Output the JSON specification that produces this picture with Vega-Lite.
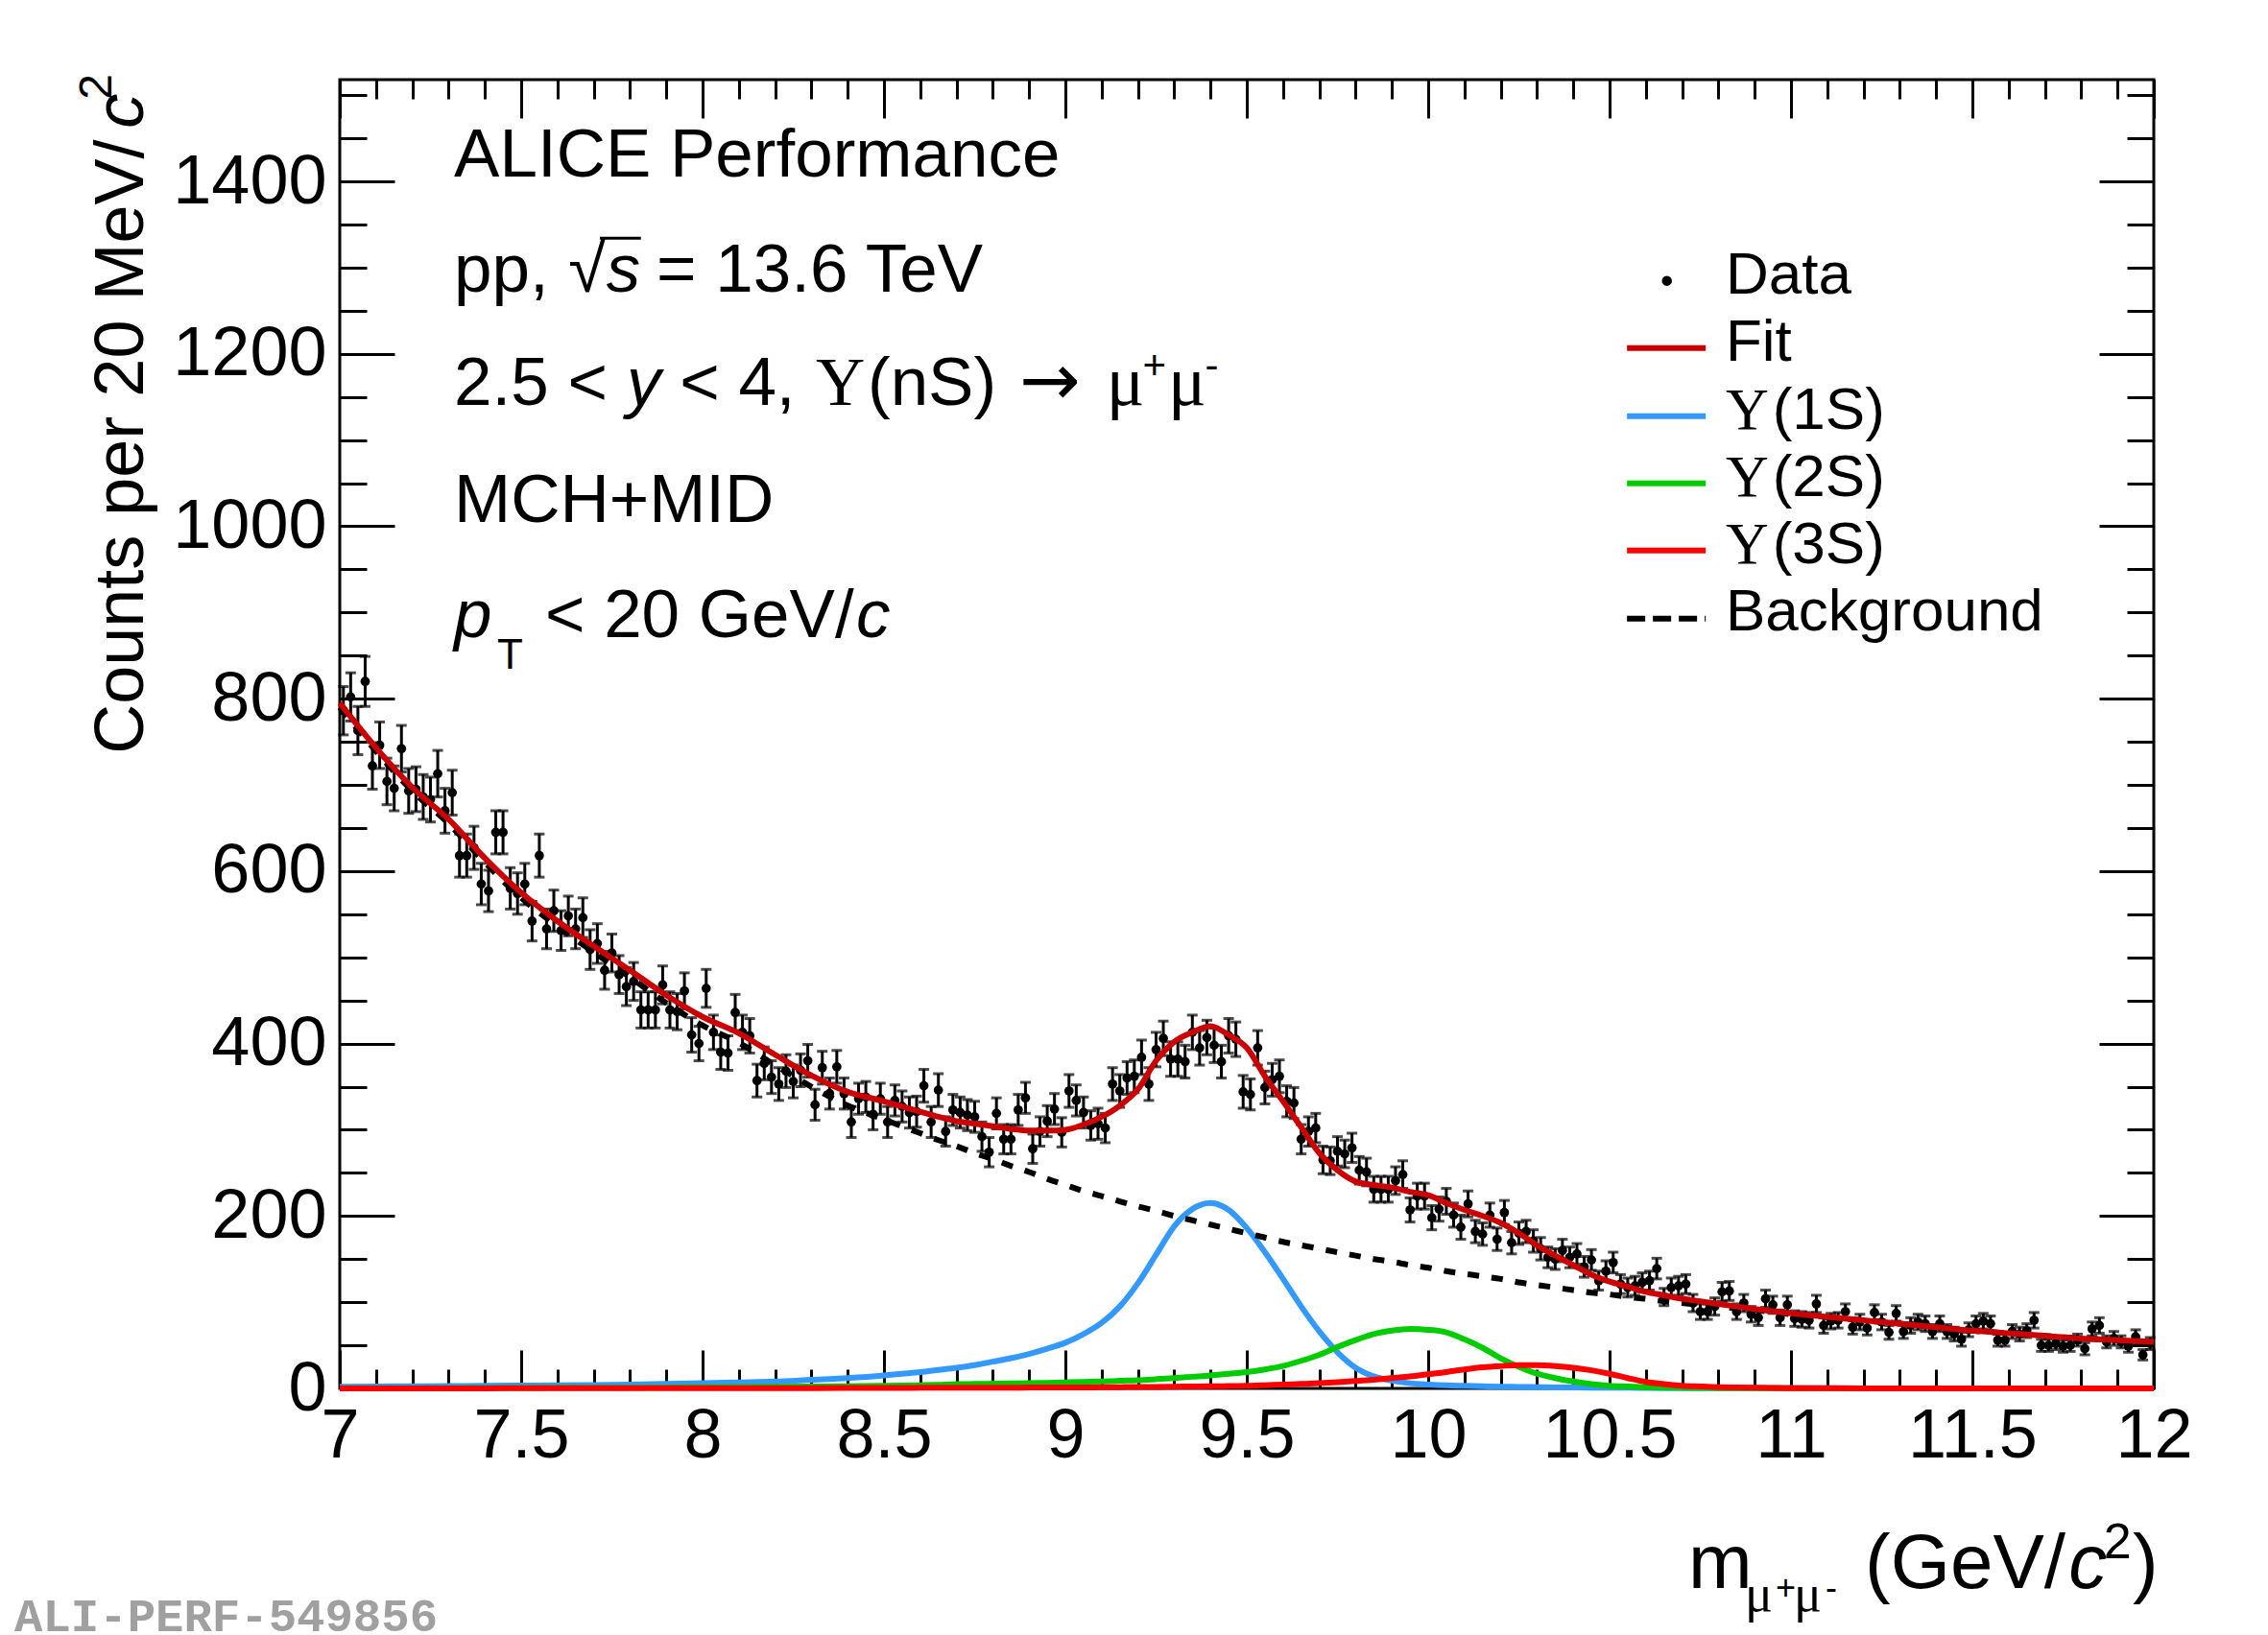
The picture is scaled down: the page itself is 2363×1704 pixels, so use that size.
{
  "$schema": "https://vega.github.io/schema/vega-lite/v6.json",
  "width": 1890,
  "height": 1364,
  "autosize": {"type": "none"},
  "padding": {"left": 354, "top": 83, "right": 119, "bottom": 257},
  "background": "white",
  "config": {
    "view": {"stroke": "black", "strokeWidth": 3},
    "axis": {"domain": false, "grid": false, "tickColor": "black", "tickWidth": 3, "labelFont": "Liberation Sans", "labelFontSize": 72, "labelColor": "black"}
  },
  "datasets": {
    "pts": [
      {"m":7.01,"n":786,"e":28},{"m":7.03,"n":802,"e":28},{"m":7.05,"n":763,"e":28},{"m":7.07,"n":820,"e":29},{"m":7.09,"n":722,"e":27},
      {"m":7.11,"n":746,"e":27},{"m":7.13,"n":704,"e":27},{"m":7.15,"n":696,"e":26},{"m":7.17,"n":742,"e":27},{"m":7.19,"n":693,"e":26},
      {"m":7.21,"n":695,"e":26},{"m":7.23,"n":686,"e":26},{"m":7.25,"n":683,"e":26},{"m":7.27,"n":713,"e":27},{"m":7.29,"n":670,"e":26},
      {"m":7.31,"n":691,"e":26},{"m":7.33,"n":618,"e":25},{"m":7.35,"n":618,"e":25},{"m":7.37,"n":627,"e":25},{"m":7.39,"n":585,"e":24},
      {"m":7.41,"n":577,"e":24},{"m":7.43,"n":645,"e":25},{"m":7.45,"n":645,"e":25},{"m":7.47,"n":580,"e":24},{"m":7.49,"n":574,"e":24},
      {"m":7.51,"n":585,"e":24},{"m":7.53,"n":542,"e":23},{"m":7.55,"n":618,"e":25},{"m":7.57,"n":533,"e":23},{"m":7.59,"n":554,"e":24},
      {"m":7.61,"n":531,"e":23},{"m":7.63,"n":548,"e":23},{"m":7.65,"n":533,"e":23},{"m":7.67,"n":546,"e":23},{"m":7.69,"n":509,"e":23},
      {"m":7.71,"n":516,"e":23},{"m":7.73,"n":485,"e":22},{"m":7.75,"n":505,"e":22},{"m":7.77,"n":480,"e":22},{"m":7.79,"n":466,"e":22},
      {"m":7.81,"n":472,"e":22},{"m":7.83,"n":439,"e":21},{"m":7.85,"n":439,"e":21},{"m":7.87,"n":439,"e":21},{"m":7.89,"n":468,"e":22},
      {"m":7.91,"n":439,"e":21},{"m":7.93,"n":437,"e":21},{"m":7.95,"n":461,"e":21},{"m":7.97,"n":410,"e":20},{"m":7.99,"n":400,"e":20},
      {"m":8.01,"n":464,"e":22},{"m":8.03,"n":413,"e":20},{"m":8.05,"n":390,"e":20},{"m":8.07,"n":389,"e":20},{"m":8.09,"n":436,"e":21},
      {"m":8.11,"n":413,"e":20},{"m":8.13,"n":409,"e":20},{"m":8.15,"n":357,"e":19},{"m":8.17,"n":377,"e":19},{"m":8.19,"n":361,"e":19},
      {"m":8.21,"n":353,"e":19},{"m":8.23,"n":368,"e":19},{"m":8.25,"n":356,"e":19},{"m":8.27,"n":369,"e":19},{"m":8.29,"n":380,"e":19},
      {"m":8.31,"n":329,"e":18},{"m":8.33,"n":372,"e":19},{"m":8.35,"n":342,"e":18},{"m":8.37,"n":373,"e":19},{"m":8.39,"n":342,"e":18},
      {"m":8.41,"n":309,"e":18},{"m":8.43,"n":336,"e":18},{"m":8.45,"n":338,"e":18},{"m":8.47,"n":318,"e":18},{"m":8.49,"n":336,"e":18},
      {"m":8.51,"n":309,"e":18},{"m":8.53,"n":334,"e":18},{"m":8.55,"n":327,"e":18},{"m":8.57,"n":320,"e":18},{"m":8.59,"n":321,"e":18},
      {"m":8.61,"n":351,"e":19},{"m":8.63,"n":309,"e":18},{"m":8.65,"n":346,"e":19},{"m":8.67,"n":298,"e":17},{"m":8.69,"n":323,"e":18},
      {"m":8.71,"n":320,"e":18},{"m":8.73,"n":317,"e":18},{"m":8.75,"n":315,"e":18},{"m":8.77,"n":292,"e":17},{"m":8.79,"n":274,"e":17},
      {"m":8.81,"n":319,"e":18},{"m":8.83,"n":289,"e":17},{"m":8.85,"n":289,"e":17},{"m":8.87,"n":323,"e":18},{"m":8.89,"n":337,"e":18},
      {"m":8.91,"n":278,"e":17},{"m":8.93,"n":298,"e":17},{"m":8.95,"n":310,"e":18},{"m":8.97,"n":324,"e":18},{"m":8.99,"n":297,"e":17},
      {"m":9.01,"n":345,"e":19},{"m":9.03,"n":334,"e":18},{"m":9.05,"n":320,"e":18},{"m":9.07,"n":305,"e":17},{"m":9.09,"n":307,"e":18},
      {"m":9.11,"n":302,"e":17},{"m":9.13,"n":353,"e":19},{"m":9.15,"n":345,"e":19},{"m":9.17,"n":360,"e":19},{"m":9.19,"n":362,"e":19},
      {"m":9.21,"n":384,"e":20},{"m":9.23,"n":353,"e":19},{"m":9.25,"n":393,"e":20},{"m":9.27,"n":406,"e":20},{"m":9.29,"n":382,"e":20},
      {"m":9.31,"n":382,"e":20},{"m":9.33,"n":379,"e":19},{"m":9.35,"n":413,"e":20},{"m":9.37,"n":395,"e":20},{"m":9.39,"n":407,"e":20},
      {"m":9.41,"n":398,"e":20},{"m":9.43,"n":379,"e":19},{"m":9.45,"n":409,"e":20},{"m":9.47,"n":405,"e":20},{"m":9.49,"n":344,"e":19},
      {"m":9.51,"n":341,"e":18},{"m":9.53,"n":395,"e":20},{"m":9.55,"n":349,"e":19},{"m":9.57,"n":358,"e":19},{"m":9.59,"n":362,"e":19},
      {"m":9.61,"n":333,"e":18},{"m":9.63,"n":331,"e":18},{"m":9.65,"n":289,"e":17},{"m":9.67,"n":298,"e":17},{"m":9.69,"n":302,"e":17},
      {"m":9.71,"n":265,"e":16},{"m":9.73,"n":264,"e":16},{"m":9.75,"n":275,"e":17},{"m":9.77,"n":272,"e":16},{"m":9.79,"n":279,"e":17},
      {"m":9.81,"n":253,"e":16},{"m":9.83,"n":251,"e":16},{"m":9.85,"n":231,"e":15},{"m":9.87,"n":231,"e":15},{"m":9.89,"n":231,"e":15},
      {"m":9.91,"n":241,"e":16},{"m":9.93,"n":248,"e":16},{"m":9.95,"n":207,"e":14},{"m":9.97,"n":223,"e":15},{"m":9.99,"n":223,"e":15},
      {"m":10.01,"n":198,"e":14},{"m":10.03,"n":208,"e":14},{"m":10.05,"n":217,"e":15},{"m":10.07,"n":201,"e":14},{"m":10.09,"n":187,"e":14},
      {"m":10.11,"n":214,"e":15},{"m":10.13,"n":182,"e":13},{"m":10.15,"n":179,"e":13},{"m":10.17,"n":201,"e":14},{"m":10.19,"n":173,"e":13},
      {"m":10.21,"n":204,"e":14},{"m":10.23,"n":169,"e":13},{"m":10.25,"n":180,"e":13},{"m":10.27,"n":182,"e":13},{"m":10.29,"n":171,"e":13},
      {"m":10.31,"n":162,"e":13},{"m":10.33,"n":152,"e":12},{"m":10.35,"n":150,"e":12},{"m":10.37,"n":160,"e":13},{"m":10.39,"n":152,"e":12},
      {"m":10.41,"n":156,"e":12},{"m":10.43,"n":141,"e":12},{"m":10.45,"n":149,"e":12},{"m":10.47,"n":125,"e":11},{"m":10.49,"n":136,"e":12},
      {"m":10.51,"n":146,"e":12},{"m":10.53,"n":121,"e":11},{"m":10.55,"n":117,"e":11},{"m":10.57,"n":119,"e":11},{"m":10.59,"n":123,"e":11},
      {"m":10.61,"n":125,"e":11},{"m":10.63,"n":139,"e":12},{"m":10.65,"n":106,"e":10},{"m":10.67,"n":117,"e":11},{"m":10.69,"n":119,"e":11},
      {"m":10.71,"n":121,"e":11},{"m":10.73,"n":99,"e":10},{"m":10.75,"n":89,"e":9},{"m":10.77,"n":89,"e":9},{"m":10.79,"n":95,"e":10},
      {"m":10.81,"n":112,"e":11},{"m":10.83,"n":113,"e":11},{"m":10.85,"n":89,"e":9},{"m":10.87,"n":99,"e":10},{"m":10.89,"n":86,"e":9},
      {"m":10.91,"n":82,"e":9},{"m":10.93,"n":104,"e":10},{"m":10.95,"n":97,"e":10},{"m":10.97,"n":82,"e":9},{"m":10.99,"n":97,"e":10},
      {"m":11.01,"n":81,"e":9},{"m":11.03,"n":80,"e":9},{"m":11.05,"n":79,"e":9},{"m":11.07,"n":98,"e":10},{"m":11.09,"n":73,"e":9},
      {"m":11.11,"n":78,"e":9},{"m":11.13,"n":79,"e":9},{"m":11.15,"n":89,"e":9},{"m":11.17,"n":71,"e":8},{"m":11.19,"n":77,"e":9},
      {"m":11.21,"n":70,"e":8},{"m":11.23,"n":88,"e":9},{"m":11.25,"n":77,"e":9},{"m":11.27,"n":65,"e":8},{"m":11.29,"n":87,"e":9},
      {"m":11.31,"n":66,"e":8},{"m":11.33,"n":73,"e":9},{"m":11.35,"n":77,"e":9},{"m":11.37,"n":75,"e":9},{"m":11.39,"n":66,"e":8},
      {"m":11.41,"n":75,"e":9},{"m":11.43,"n":66,"e":8},{"m":11.45,"n":63,"e":8},{"m":11.47,"n":57,"e":8},{"m":11.49,"n":68,"e":8},
      {"m":11.51,"n":75,"e":9},{"m":11.53,"n":78,"e":9},{"m":11.55,"n":75,"e":9},{"m":11.57,"n":56,"e":7},{"m":11.59,"n":56,"e":7},
      {"m":11.61,"n":66,"e":8},{"m":11.63,"n":63,"e":8},{"m":11.65,"n":67,"e":8},{"m":11.67,"n":79,"e":9},{"m":11.69,"n":50,"e":7},
      {"m":11.71,"n":50,"e":7},{"m":11.73,"n":52,"e":7},{"m":11.75,"n":49,"e":7},{"m":11.77,"n":50,"e":7},{"m":11.79,"n":56,"e":7},
      {"m":11.81,"n":46,"e":7},{"m":11.83,"n":69,"e":8},{"m":11.85,"n":73,"e":9},{"m":11.87,"n":54,"e":7},{"m":11.89,"n":58,"e":8},
      {"m":11.91,"n":54,"e":7},{"m":11.93,"n":49,"e":7},{"m":11.95,"n":60,"e":8},{"m":11.97,"n":39,"e":6},{"m":11.99,"n":52,"e":7}
    ],
    "crv": [
      {"m":7.0,"fit":795,"bkg":790,"s1":2,"s2":0.3,"s3":0.1},
      {"m":7.1,"fit":743,"bkg":739,"s1":2.2,"s2":0.3,"s3":0.1},
      {"m":7.2,"fit":697,"bkg":693,"s1":2.5,"s2":0.4,"s3":0.1},
      {"m":7.3,"fit":660,"bkg":655,"s1":2.8,"s2":0.4,"s3":0.1},
      {"m":7.4,"fit":615,"bkg":610,"s1":3,"s2":0.5,"s3":0.1},
      {"m":7.5,"fit":575,"bkg":569,"s1":3.3,"s2":0.6,"s3":0.2},
      {"m":7.6,"fit":542,"bkg":536,"s1":3.6,"s2":0.7,"s3":0.2},
      {"m":7.7,"fit":513,"bkg":506,"s1":4,"s2":0.8,"s3":0.2},
      {"m":7.8,"fit":485,"bkg":477,"s1":4.5,"s2":0.9,"s3":0.2},
      {"m":7.9,"fit":456,"bkg":447,"s1":5.2,"s2":1.1,"s3":0.3},
      {"m":8.0,"fit":431,"bkg":421,"s1":6,"s2":1.5,"s3":0.3},
      {"m":8.1,"fit":412,"bkg":401,"s1":7,"s2":1.7,"s3":0.3},
      {"m":8.2,"fit":387,"bkg":375,"s1":8,"s2":1.9,"s3":0.4},
      {"m":8.3,"fit":363,"bkg":350,"s1":10,"s2":2.2,"s3":0.4},
      {"m":8.4,"fit":344,"bkg":328,"s1":12,"s2":2.6,"s3":0.5},
      {"m":8.5,"fit":333,"bkg":312,"s1":15,"s2":3,"s3":0.6},
      {"m":8.55,"fit":327,"bkg":304,"s1":17,"s2":3.3,"s3":0.6},
      {"m":8.6,"fit":321,"bkg":296,"s1":19,"s2":3.7,"s3":0.7},
      {"m":8.65,"fit":315,"bkg":288,"s1":21.5,"s2":4.2,"s3":0.7},
      {"m":8.7,"fit":310,"bkg":281,"s1":24,"s2":5,"s3":0.8},
      {"m":8.75,"fit":307,"bkg":273,"s1":27,"s2":5.2,"s3":0.8},
      {"m":8.8,"fit":304,"bkg":266,"s1":31,"s2":5.5,"s3":0.9},
      {"m":8.85,"fit":301,"bkg":258,"s1":35,"s2":5.8,"s3":0.9},
      {"m":8.9,"fit":299,"bkg":251,"s1":40,"s2":6,"s3":1},
      {"m":8.95,"fit":299,"bkg":243,"s1":46,"s2":6.5,"s3":1},
      {"m":9.0,"fit":300,"bkg":236,"s1":53,"s2":7,"s3":1},
      {"m":9.05,"fit":306,"bkg":229,"s1":63,"s2":7.5,"s3":1.2},
      {"m":9.1,"fit":315,"bkg":223,"s1":76,"s2":8,"s3":1.3},
      {"m":9.15,"fit":328,"bkg":217,"s1":95,"s2":8.8,"s3":1.5},
      {"m":9.2,"fit":347,"bkg":211,"s1":122,"s2":9.5,"s3":1.7},
      {"m":9.25,"fit":380,"bkg":206,"s1":155,"s2":10.7,"s3":1.8},
      {"m":9.3,"fit":402,"bkg":200,"s1":188,"s2":12,"s3":2},
      {"m":9.35,"fit":413,"bkg":195,"s1":208,"s2":13.5,"s3":2.2},
      {"m":9.4,"fit":420,"bkg":190,"s1":215,"s2":15,"s3":2.4},
      {"m":9.45,"fit":410,"bkg":185,"s1":207,"s2":17,"s3":2.7},
      {"m":9.5,"fit":395,"bkg":180,"s1":186,"s2":19,"s3":3},
      {"m":9.55,"fit":362,"bkg":175,"s1":158,"s2":22,"s3":3.7},
      {"m":9.6,"fit":333,"bkg":170,"s1":127,"s2":26,"s3":4.5},
      {"m":9.65,"fit":303,"bkg":166,"s1":95,"s2":32,"s3":5.2},
      {"m":9.7,"fit":273,"bkg":162,"s1":66,"s2":39,"s3":6},
      {"m":9.75,"fit":253,"bkg":158,"s1":42,"s2":48,"s3":7.2},
      {"m":9.8,"fit":240,"bkg":154,"s1":24,"s2":56,"s3":8.5},
      {"m":9.85,"fit":236,"bkg":150,"s1":14,"s2":63,"s3":10},
      {"m":9.9,"fit":233,"bkg":147,"s1":9,"s2":67,"s3":12},
      {"m":9.95,"fit":228,"bkg":143,"s1":6,"s2":69,"s3":14},
      {"m":10.0,"fit":224,"bkg":140,"s1":4.5,"s2":68,"s3":16.5},
      {"m":10.05,"fit":215,"bkg":136,"s1":3.5,"s2":65,"s3":19},
      {"m":10.1,"fit":207,"bkg":133,"s1":3,"s2":57,"s3":22},
      {"m":10.15,"fit":200,"bkg":130,"s1":2.5,"s2":47,"s3":24.5},
      {"m":10.2,"fit":192,"bkg":127,"s1":2,"s2":35,"s3":26},
      {"m":10.25,"fit":180,"bkg":123,"s1":1.8,"s2":25,"s3":27},
      {"m":10.3,"fit":166,"bkg":120,"s1":1.5,"s2":17,"s3":27},
      {"m":10.35,"fit":154,"bkg":117,"s1":1.2,"s2":12,"s3":26},
      {"m":10.4,"fit":143,"bkg":114,"s1":1,"s2":8,"s3":24},
      {"m":10.45,"fit":132,"bkg":111,"s1":0.9,"s2":5,"s3":21},
      {"m":10.5,"fit":124,"bkg":109,"s1":0.8,"s2":3,"s3":17},
      {"m":10.55,"fit":118,"bkg":106,"s1":0.7,"s2":2.2,"s3":12},
      {"m":10.6,"fit":112,"bkg":104,"s1":0.5,"s2":1.5,"s3":7.5},
      {"m":10.65,"fit":108,"bkg":101,"s1":0.4,"s2":1,"s3":5},
      {"m":10.7,"fit":104,"bkg":99,"s1":0.4,"s2":0.7,"s3":3},
      {"m":10.75,"fit":101,"bkg":97,"s1":0.3,"s2":0.5,"s3":2.2},
      {"m":10.8,"fit":98,"bkg":95,"s1":0.3,"s2":0.4,"s3":1.5},
      {"m":10.85,"fit":95,"bkg":93,"s1":0.3,"s2":0.3,"s3":1.1},
      {"m":10.9,"fit":92,"bkg":91,"s1":0.2,"s2":0.3,"s3":0.8},
      {"m":11.0,"fit":87,"bkg":86,"s1":0.2,"s2":0.2,"s3":0.4},
      {"m":11.1,"fit":83,"bkg":82.5,"s1":0.2,"s2":0.1,"s3":0.2},
      {"m":11.2,"fit":79,"bkg":79,"s1":0.1,"s2":0.1,"s3":0.1},
      {"m":11.3,"fit":75,"bkg":75,"s1":0.1,"s2":0.1,"s3":0.1},
      {"m":11.4,"fit":71,"bkg":71,"s1":0.1,"s2":0,"s3":0},
      {"m":11.5,"fit":67,"bkg":67,"s1":0.1,"s2":0,"s3":0},
      {"m":11.6,"fit":64,"bkg":64,"s1":0,"s2":0,"s3":0},
      {"m":11.7,"fit":61,"bkg":61,"s1":0,"s2":0,"s3":0},
      {"m":11.8,"fit":58,"bkg":58,"s1":0,"s2":0,"s3":0},
      {"m":11.9,"fit":56,"bkg":56,"s1":0,"s2":0,"s3":0},
      {"m":12.0,"fit":54,"bkg":54,"s1":0,"s2":0,"s3":0}
    ],
    "one": [{}]
  },
  "resolve": {"axis": {"x": "independent", "y": "independent"}},
  "layer": [
    {
      "data": {"name": "pts"},
      "mark": {"type": "errorbar", "ticks": true, "thickness": 3, "size": 11, "color": "black"},
      "encoding": {
        "x": {"field": "m", "type": "quantitative", "axis": null},
        "y": {"field": "n", "type": "quantitative", "axis": null},
        "yError": {"field": "e"}
      }
    },
    {
      "data": {"name": "pts"},
      "mark": {"type": "circle", "color": "black", "opacity": 1, "size": 95},
      "encoding": {
        "x": {"field": "m", "type": "quantitative", "scale": {"domain": [7, 12], "nice": false, "zero": false},
          "axis": {"orient": "bottom", "title": null, "values": [7, 7.5, 8, 8.5, 9, 9.5, 10, 10.5, 11, 11.5, 12], "format": "~g", "tickSize": -40, "labelPadding": 54, "labelFlush": false, "labelOverlap": false, "labelBound": false}},
        "y": {"field": "n", "type": "quantitative", "scale": {"domain": [0, 1518], "nice": false, "zero": false},
          "axis": {"orient": "left", "title": null, "values": [0, 200, 400, 600, 800, 1000, 1200, 1400], "format": "d", "tickSize": -57, "labelPadding": 71, "labelFlush": false, "labelOverlap": false, "labelBound": false}}
      }
    },
    {
      "data": {"name": "crv"},
      "mark": {"type": "line", "color": "#3399ff", "strokeWidth": 6, "interpolate": "monotone"},
      "encoding": {
        "x": {"field": "m", "type": "quantitative",
          "axis": {"orient": "top", "title": null, "labels": false, "tickSize": -20, "values": [7,7.1,7.2,7.3,7.4,7.5,7.6,7.7,7.8,7.9,8,8.1,8.2,8.3,8.4,8.5,8.6,8.7,8.8,8.9,9,9.1,9.2,9.3,9.4,9.5,9.6,9.7,9.8,9.9,10,10.1,10.2,10.3,10.4,10.5,10.6,10.7,10.8,10.9,11,11.1,11.2,11.3,11.4,11.5,11.6,11.7,11.8,11.9,12]}},
        "y": {"field": "s1", "type": "quantitative",
          "axis": {"orient": "right", "title": null, "labels": false, "tickSize": -28, "values": [0,50,100,150,200,250,300,350,400,450,500,550,600,650,700,750,800,850,900,950,1000,1050,1100,1150,1200,1250,1300,1350,1400,1450,1500]}}
      }
    },
    {
      "data": {"name": "crv"},
      "mark": {"type": "line", "color": "#00cc00", "strokeWidth": 6, "interpolate": "monotone"},
      "encoding": {
        "x": {"field": "m", "type": "quantitative", "axis": null},
        "y": {"field": "s2", "type": "quantitative", "axis": null}
      }
    },
    {
      "data": {"name": "crv"},
      "mark": {"type": "line", "color": "#ff0000", "strokeWidth": 6, "interpolate": "monotone"},
      "encoding": {
        "x": {"field": "m", "type": "quantitative", "axis": null},
        "y": {"field": "s3", "type": "quantitative", "axis": null}
      }
    },
    {
      "data": {"name": "crv"},
      "mark": {"type": "line", "color": "black", "strokeWidth": 6, "strokeDash": [12, 13], "interpolate": "monotone"},
      "encoding": {
        "x": {"field": "m", "type": "quantitative",
          "axis": {"orient": "top", "title": null, "labels": false, "tickSize": -40, "values": [7, 7.5, 8, 8.5, 9, 9.5, 10, 10.5, 11, 11.5, 12]}},
        "y": {"field": "bkg", "type": "quantitative",
          "axis": {"orient": "right", "title": null, "labels": false, "tickSize": -57, "values": [0, 200, 400, 600, 800, 1000, 1200, 1400]}}
      }
    },
    {
      "data": {"name": "crv"},
      "mark": {"type": "line", "color": "#cc0000", "strokeWidth": 6, "interpolate": "monotone"},
      "encoding": {
        "x": {"field": "m", "type": "quantitative",
          "axis": {"orient": "bottom", "title": null, "labels": false, "tickSize": -20, "values": [7,7.1,7.2,7.3,7.4,7.5,7.6,7.7,7.8,7.9,8,8.1,8.2,8.3,8.4,8.5,8.6,8.7,8.8,8.9,9,9.1,9.2,9.3,9.4,9.5,9.6,9.7,9.8,9.9,10,10.1,10.2,10.3,10.4,10.5,10.6,10.7,10.8,10.9,11,11.1,11.2,11.3,11.4,11.5,11.6,11.7,11.8,11.9,12]}},
        "y": {"field": "fit", "type": "quantitative",
          "axis": {"orient": "left", "title": null, "labels": false, "tickSize": -28, "values": [0,50,100,150,200,250,300,350,400,450,500,550,600,650,700,750,800,850,900,950,1000,1050,1100,1150,1200,1250,1300,1350,1400,1450,1500]}}
      }
    },
    {"data": {"name": "one"}, "mark": {"type": "text", "text": "ALICE Performance", "font": "Liberation Sans", "fontSize": 71, "align": "left", "baseline": "alphabetic", "color": "black"},
      "encoding": {"x": {"datum": 7.315, "type": "quantitative", "axis": null}, "y": {"datum": 1406, "type": "quantitative", "axis": null}}},
    {"data": {"name": "one"}, "mark": {"type": "text", "text": "pp,", "font": "Liberation Sans", "fontSize": 71, "align": "left", "baseline": "alphabetic", "color": "black"},
      "encoding": {"x": {"datum": 7.315, "type": "quantitative", "axis": null}, "y": {"datum": 1272.4, "type": "quantitative", "axis": null}}},
    {"data": {"name": "one"}, "mark": {"type": "text", "text": "√", "font": "Liberation Sans", "fontSize": 71, "align": "left", "baseline": "alphabetic", "color": "black"},
      "encoding": {"x": {"datum": 7.630, "type": "quantitative", "axis": null}, "y": {"datum": 1272.4, "type": "quantitative", "axis": null}}},
    {"data": {"name": "one"}, "mark": {"type": "text", "text": "s", "font": "Liberation Sans", "fontStyle": "italic", "fontSize": 71, "align": "left", "baseline": "alphabetic", "color": "black"},
      "encoding": {"x": {"datum": 7.735, "type": "quantitative", "axis": null}, "y": {"datum": 1272.4, "type": "quantitative", "axis": null}}},
    {"data": {"name": "one"}, "mark": {"type": "rule", "color": "black", "strokeWidth": 3},
      "encoding": {"x": {"datum": 7.717, "type": "quantitative", "axis": null}, "x2": {"datum": 7.83}, "y": {"datum": 1334, "type": "quantitative", "axis": null}}},
    {"data": {"name": "one"}, "mark": {"type": "text", "text": "= 13.6 TeV", "font": "Liberation Sans", "fontSize": 71, "align": "left", "baseline": "alphabetic", "color": "black"},
      "encoding": {"x": {"datum": 7.873, "type": "quantitative", "axis": null}, "y": {"datum": 1272.4, "type": "quantitative", "axis": null}}},
    {"data": {"name": "one"}, "mark": {"type": "text", "text": "2.5 <", "font": "Liberation Sans", "fontSize": 71, "align": "left", "baseline": "alphabetic", "color": "black"},
      "encoding": {"x": {"datum": 7.315, "type": "quantitative", "axis": null}, "y": {"datum": 1141, "type": "quantitative", "axis": null}}},
    {"data": {"name": "one"}, "mark": {"type": "text", "text": "y", "font": "Liberation Sans", "fontStyle": "italic", "fontSize": 71, "align": "left", "baseline": "alphabetic", "color": "black"},
      "encoding": {"x": {"datum": 7.791, "type": "quantitative", "axis": null}, "y": {"datum": 1141, "type": "quantitative", "axis": null}}},
    {"data": {"name": "one"}, "mark": {"type": "text", "text": "< 4,", "font": "Liberation Sans", "fontSize": 71, "align": "left", "baseline": "alphabetic", "color": "black"},
      "encoding": {"x": {"datum": 7.937, "type": "quantitative", "axis": null}, "y": {"datum": 1141, "type": "quantitative", "axis": null}}},
    {"data": {"name": "one"}, "mark": {"type": "text", "text": "Υ", "font": "Liberation Serif", "fontSize": 71, "align": "left", "baseline": "alphabetic", "color": "black"},
      "encoding": {"x": {"datum": 8.312, "type": "quantitative", "axis": null}, "y": {"datum": 1141, "type": "quantitative", "axis": null}}},
    {"data": {"name": "one"}, "mark": {"type": "text", "text": "(nS)", "font": "Liberation Sans", "fontSize": 71, "align": "left", "baseline": "alphabetic", "color": "black"},
      "encoding": {"x": {"datum": 8.455, "type": "quantitative", "axis": null}, "y": {"datum": 1141, "type": "quantitative", "axis": null}}},
    {"data": {"name": "one"}, "mark": {"type": "text", "text": "→", "font": "DejaVu Sans", "fontSize": 76, "align": "left", "baseline": "alphabetic", "color": "black"},
      "encoding": {"x": {"datum": 8.873, "type": "quantitative", "axis": null}, "y": {"datum": 1141, "type": "quantitative", "axis": null}}},
    {"data": {"name": "one"}, "mark": {"type": "text", "text": "μ", "font": "Liberation Serif", "fontSize": 74, "align": "left", "baseline": "alphabetic", "color": "black"},
      "encoding": {"x": {"datum": 9.113, "type": "quantitative", "axis": null}, "y": {"datum": 1141, "type": "quantitative", "axis": null}}},
    {"data": {"name": "one"}, "mark": {"type": "text", "text": "+", "font": "Liberation Sans", "fontSize": 42, "align": "left", "baseline": "alphabetic", "color": "black"},
      "encoding": {"x": {"datum": 9.213, "type": "quantitative", "axis": null}, "y": {"datum": 1171, "type": "quantitative", "axis": null}}},
    {"data": {"name": "one"}, "mark": {"type": "text", "text": "μ", "font": "Liberation Serif", "fontSize": 74, "align": "left", "baseline": "alphabetic", "color": "black"},
      "encoding": {"x": {"datum": 9.283, "type": "quantitative", "axis": null}, "y": {"datum": 1141, "type": "quantitative", "axis": null}}},
    {"data": {"name": "one"}, "mark": {"type": "text", "text": "-", "font": "Liberation Sans", "fontSize": 42, "align": "left", "baseline": "alphabetic", "color": "black"},
      "encoding": {"x": {"datum": 9.385, "type": "quantitative", "axis": null}, "y": {"datum": 1171, "type": "quantitative", "axis": null}}},
    {"data": {"name": "one"}, "mark": {"type": "text", "text": "MCH+MID", "font": "Liberation Sans", "fontSize": 71, "align": "left", "baseline": "alphabetic", "color": "black"},
      "encoding": {"x": {"datum": 7.315, "type": "quantitative", "axis": null}, "y": {"datum": 1005.2, "type": "quantitative", "axis": null}}},
    {"data": {"name": "one"}, "mark": {"type": "text", "text": "p", "font": "Liberation Sans", "fontStyle": "italic", "fontSize": 71, "align": "left", "baseline": "alphabetic", "color": "black"},
      "encoding": {"x": {"datum": 7.315, "type": "quantitative", "axis": null}, "y": {"datum": 871.7, "type": "quantitative", "axis": null}}},
    {"data": {"name": "one"}, "mark": {"type": "text", "text": "T", "font": "Liberation Sans", "fontSize": 44, "align": "left", "baseline": "alphabetic", "color": "black"},
      "encoding": {"x": {"datum": 7.434, "type": "quantitative", "axis": null}, "y": {"datum": 834.9, "type": "quantitative", "axis": null}}},
    {"data": {"name": "one"}, "mark": {"type": "text", "text": "< 20 GeV/", "font": "Liberation Sans", "fontSize": 71, "align": "left", "baseline": "alphabetic", "color": "black"},
      "encoding": {"x": {"datum": 7.566, "type": "quantitative", "axis": null}, "y": {"datum": 871.7, "type": "quantitative", "axis": null}}},
    {"data": {"name": "one"}, "mark": {"type": "text", "text": "c", "font": "Liberation Sans", "fontStyle": "italic", "fontSize": 71, "align": "left", "baseline": "alphabetic", "color": "black"},
      "encoding": {"x": {"datum": 8.423, "type": "quantitative", "axis": null}, "y": {"datum": 871.7, "type": "quantitative", "axis": null}}},
    {"data": {"name": "one"}, "mark": {"type": "text", "text": "Counts per 20 MeV/", "font": "Liberation Sans", "fontSize": 72, "angle": 270, "align": "left", "baseline": "alphabetic", "color": "black"},
      "encoding": {"x": {"datum": 6.4577, "type": "quantitative", "axis": null}, "y": {"datum": 735.8, "type": "quantitative", "axis": null}}},
    {"data": {"name": "one"}, "mark": {"type": "text", "text": "c", "font": "Liberation Sans", "fontStyle": "italic", "fontSize": 72, "angle": 270, "align": "left", "baseline": "alphabetic", "color": "black"},
      "encoding": {"x": {"datum": 6.4577, "type": "quantitative", "axis": null}, "y": {"datum": 1461.6, "type": "quantitative", "axis": null}}},
    {"data": {"name": "one"}, "mark": {"type": "text", "text": "2", "font": "Liberation Sans", "fontSize": 48, "angle": 270, "align": "left", "baseline": "alphabetic", "color": "black"},
      "encoding": {"x": {"datum": 6.370, "type": "quantitative", "axis": null}, "y": {"datum": 1495, "type": "quantitative", "axis": null}}},
    {"data": {"name": "one"}, "mark": {"type": "text", "text": "m", "font": "Liberation Sans", "fontSize": 80, "align": "left", "baseline": "alphabetic", "color": "black"},
      "encoding": {"x": {"datum": 10.717, "type": "quantitative", "axis": null}, "y": {"datum": -231.5, "type": "quantitative", "axis": null}}},
    {"data": {"name": "one"}, "mark": {"type": "text", "text": "μ", "font": "Liberation Serif", "fontSize": 54, "align": "left", "baseline": "alphabetic", "color": "black"},
      "encoding": {"x": {"datum": 10.873, "type": "quantitative", "axis": null}, "y": {"datum": -258.3, "type": "quantitative", "axis": null}}},
    {"data": {"name": "one"}, "mark": {"type": "text", "text": "+", "font": "Liberation Sans", "fontSize": 36, "align": "left", "baseline": "alphabetic", "color": "black"},
      "encoding": {"x": {"datum": 10.958, "type": "quantitative", "axis": null}, "y": {"datum": -244.9, "type": "quantitative", "axis": null}}},
    {"data": {"name": "one"}, "mark": {"type": "text", "text": "μ", "font": "Liberation Serif", "fontSize": 54, "align": "left", "baseline": "alphabetic", "color": "black"},
      "encoding": {"x": {"datum": 11.008, "type": "quantitative", "axis": null}, "y": {"datum": -258.3, "type": "quantitative", "axis": null}}},
    {"data": {"name": "one"}, "mark": {"type": "text", "text": "-", "font": "Liberation Sans", "fontSize": 36, "align": "left", "baseline": "alphabetic", "color": "black"},
      "encoding": {"x": {"datum": 11.095, "type": "quantitative", "axis": null}, "y": {"datum": -244.9, "type": "quantitative", "axis": null}}},
    {"data": {"name": "one"}, "mark": {"type": "text", "text": "(GeV/", "font": "Liberation Sans", "fontSize": 80, "align": "left", "baseline": "alphabetic", "color": "black"},
      "encoding": {"x": {"datum": 11.204, "type": "quantitative", "axis": null}, "y": {"datum": -231.5, "type": "quantitative", "axis": null}}},
    {"data": {"name": "one"}, "mark": {"type": "text", "text": "c", "font": "Liberation Sans", "fontStyle": "italic", "fontSize": 80, "align": "left", "baseline": "alphabetic", "color": "black"},
      "encoding": {"x": {"datum": 11.765, "type": "quantitative", "axis": null}, "y": {"datum": -231.5, "type": "quantitative", "axis": null}}},
    {"data": {"name": "one"}, "mark": {"type": "text", "text": "2", "font": "Liberation Sans", "fontSize": 52, "align": "left", "baseline": "alphabetic", "color": "black"},
      "encoding": {"x": {"datum": 11.862, "type": "quantitative", "axis": null}, "y": {"datum": -197, "type": "quantitative", "axis": null}}},
    {"data": {"name": "one"}, "mark": {"type": "text", "text": ")", "font": "Liberation Sans", "fontSize": 80, "align": "left", "baseline": "alphabetic", "color": "black"},
      "encoding": {"x": {"datum": 11.942, "type": "quantitative", "axis": null}, "y": {"datum": -231.5, "type": "quantitative", "axis": null}}},
    {"data": {"name": "one"}, "mark": {"type": "text", "text": "ALI-PERF-549856", "font": "Liberation Mono", "fontWeight": "bold", "fontSize": 49, "align": "left", "baseline": "alphabetic", "color": "#a0a0a0"},
      "encoding": {"x": {"datum": 6.1032, "type": "quantitative", "axis": null}, "y": {"datum": -281.6, "type": "quantitative", "axis": null}}},
    {"data": {"name": "one"}, "mark": {"type": "circle", "color": "black", "opacity": 1, "size": 110},
      "encoding": {"x": {"datum": 10.658, "type": "quantitative", "axis": null}, "y": {"datum": 1284.7, "type": "quantitative", "axis": null}}},
    {"data": {"name": "one"}, "mark": {"type": "rule", "color": "#cc0000", "strokeWidth": 6},
      "encoding": {"x": {"datum": 10.548, "type": "quantitative", "axis": null}, "x2": {"datum": 10.765}, "y": {"datum": 1206.8, "type": "quantitative", "axis": null}}},
    {"data": {"name": "one"}, "mark": {"type": "rule", "color": "#3399ff", "strokeWidth": 6},
      "encoding": {"x": {"datum": 10.548, "type": "quantitative", "axis": null}, "x2": {"datum": 10.765}, "y": {"datum": 1127.7, "type": "quantitative", "axis": null}}},
    {"data": {"name": "one"}, "mark": {"type": "rule", "color": "#00cc00", "strokeWidth": 6},
      "encoding": {"x": {"datum": 10.548, "type": "quantitative", "axis": null}, "x2": {"datum": 10.765}, "y": {"datum": 1049.8, "type": "quantitative", "axis": null}}},
    {"data": {"name": "one"}, "mark": {"type": "rule", "color": "#ff0000", "strokeWidth": 6},
      "encoding": {"x": {"datum": 10.548, "type": "quantitative", "axis": null}, "x2": {"datum": 10.765}, "y": {"datum": 971.8, "type": "quantitative", "axis": null}}},
    {"data": {"name": "one"}, "mark": {"type": "rule", "color": "black", "strokeWidth": 6, "strokeDash": [19, 8]},
      "encoding": {"x": {"datum": 10.548, "type": "quantitative", "axis": null}, "x2": {"datum": 10.765}, "y": {"datum": 892.8, "type": "quantitative", "axis": null}}},
    {"data": {"name": "one"}, "mark": {"type": "text", "text": "Data", "font": "Liberation Sans", "fontSize": 62, "align": "left", "baseline": "alphabetic", "color": "black"},
      "encoding": {"x": {"datum": 10.82, "type": "quantitative", "axis": null}, "y": {"datum": 1269.4, "type": "quantitative", "axis": null}}},
    {"data": {"name": "one"}, "mark": {"type": "text", "text": "Fit", "font": "Liberation Sans", "fontSize": 62, "align": "left", "baseline": "alphabetic", "color": "black"},
      "encoding": {"x": {"datum": 10.82, "type": "quantitative", "axis": null}, "y": {"datum": 1191.5, "type": "quantitative", "axis": null}}},
    {"data": {"name": "one"}, "mark": {"type": "text", "text": "Υ", "font": "Liberation Serif", "fontSize": 62, "align": "left", "baseline": "alphabetic", "color": "black"},
      "encoding": {"x": {"datum": 10.82, "type": "quantitative", "axis": null}, "y": {"datum": 1113.3, "type": "quantitative", "axis": null}}},
    {"data": {"name": "one"}, "mark": {"type": "text", "text": "(1S)", "font": "Liberation Sans", "fontSize": 62, "align": "left", "baseline": "alphabetic", "color": "black"},
      "encoding": {"x": {"datum": 10.949, "type": "quantitative", "axis": null}, "y": {"datum": 1113.3, "type": "quantitative", "axis": null}}},
    {"data": {"name": "one"}, "mark": {"type": "text", "text": "Υ", "font": "Liberation Serif", "fontSize": 62, "align": "left", "baseline": "alphabetic", "color": "black"},
      "encoding": {"x": {"datum": 10.82, "type": "quantitative", "axis": null}, "y": {"datum": 1035.4, "type": "quantitative", "axis": null}}},
    {"data": {"name": "one"}, "mark": {"type": "text", "text": "(2S)", "font": "Liberation Sans", "fontSize": 62, "align": "left", "baseline": "alphabetic", "color": "black"},
      "encoding": {"x": {"datum": 10.949, "type": "quantitative", "axis": null}, "y": {"datum": 1035.4, "type": "quantitative", "axis": null}}},
    {"data": {"name": "one"}, "mark": {"type": "text", "text": "Υ", "font": "Liberation Serif", "fontSize": 62, "align": "left", "baseline": "alphabetic", "color": "black"},
      "encoding": {"x": {"datum": 10.82, "type": "quantitative", "axis": null}, "y": {"datum": 957.4, "type": "quantitative", "axis": null}}},
    {"data": {"name": "one"}, "mark": {"type": "text", "text": "(3S)", "font": "Liberation Sans", "fontSize": 62, "align": "left", "baseline": "alphabetic", "color": "black"},
      "encoding": {"x": {"datum": 10.949, "type": "quantitative", "axis": null}, "y": {"datum": 957.4, "type": "quantitative", "axis": null}}},
    {"data": {"name": "one"}, "mark": {"type": "text", "text": "Background", "font": "Liberation Sans", "fontSize": 62, "align": "left", "baseline": "alphabetic", "color": "black"},
      "encoding": {"x": {"datum": 10.82, "type": "quantitative", "axis": null}, "y": {"datum": 879.4, "type": "quantitative", "axis": null}}}
  ]
}
